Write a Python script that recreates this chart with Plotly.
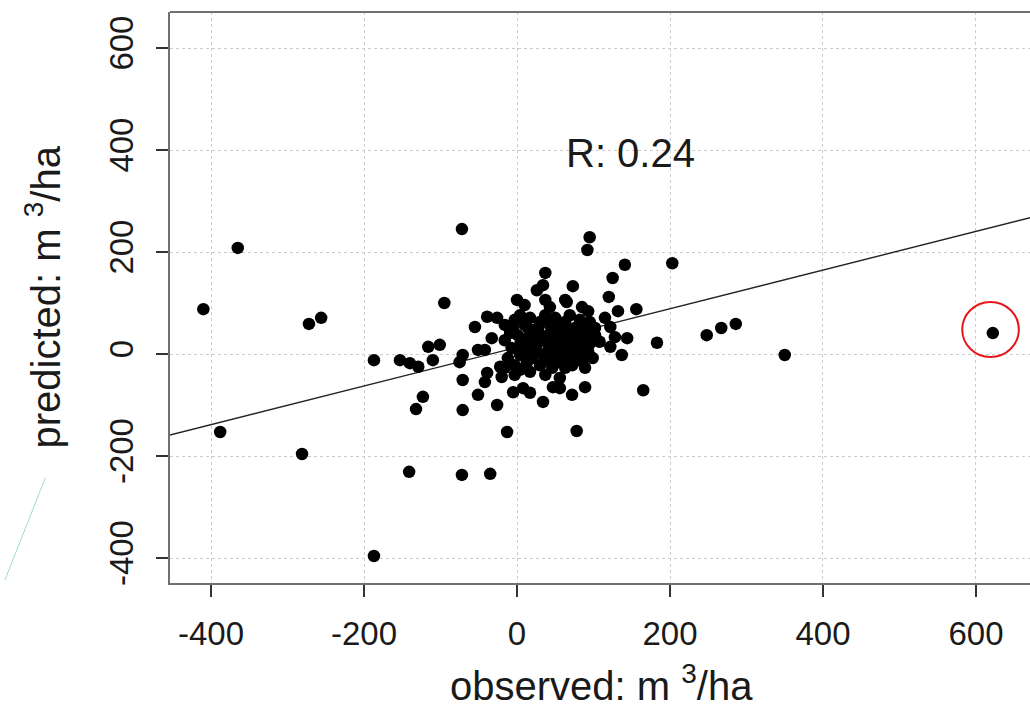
import plotly.graph_objects as go

# observed (x) and predicted (y), m3/ha
obs_out = [-410, -365, -388, -281, -272, -256, -187, -187, -153, -140, -129, -141, -132, -123,
           -116, -101, -110, -95, -72, -72, -35, -71, -75, -71, -71, -51, -55, -39, -26, -33,
           -42, -39, -42, -51, -22, -20, -26, -13, -5, 8, 17]
pred_out = [88, 208, -153, -196, 59, 71, -12, -396, -12, -18, -25, -231, -108, -84,
            14, 18, -12, 100, 245, -237, -235, -2, -16, -51, -110, 8, 53, 73, 71, 31,
            8, -37, -55, -80, -25, -45, -100, -153, -75, -67, -76]

obs_up = [0, 10, 37, 34, 26, 73, 63, 37, 43, 95, 92, 141, 203, 125, 120, 132, 156, 85, 93,
          115, 102, 122, 128, 144, 183, 108, 122, 137, 248, 267, 286, 350, 622, 165, 78,
          47, 56, 72, 89, 34, 63, 65]
pred_up = [106, 96, 159, 135, 125, 133, 106, 106, 92, 229, 204, 175, 178, 149, 112, 84, 88, 92, 84,
           71, 51, 53, 33, 31, 22, 24, 14, -2, 37, 51, 59, -2, 41, -71, -151,
           -65, -67, -80, -65, -94, -27, 102]

obs_core = [-16, -9, -3, 4, 10, 17, 24, 30, 37, 43, 50, 56, 63, 69, 76, 82, 89, 95, 102,
            -16, -7, 1, 8, 14, 21, 27, 34, 41, 47, 54, 60, 67, 73, 80, 86, 93,
            -12, -3, 4, 13, 20, 30, 38, 46, 54, 63, 72, 80, 89, 99,
            4, 17, 37, 56, -3, -16,
            20, 28, 35, 45, 52, 58, 65, 75, 82, 90, 15, 5, 25, 40, 48,
            60, 70, 78, 85, 30, 42, 55, 62, 18, -5, 0, 12, 95, 100, 68]
pred_core = [57, 41, 67, 76, 57, 71, 47, 63, 76, 57, 71, 47, 63, 76, 51, 67, 47, 63, 37,
             27, 12, 37, 18, 31, 8, 24, -2, 18, 31, 8, 22, -2, 27, 12, 24, 4,
             -8, -22, -2, -16, -8, -22, -12, -27, -16, -8, -22, -12, -27, -8,
             -31, -35, -41, -47, -41, -27,
             40, 52, 35, 45, 38, 55, 40, 35, 42, 30, 50, 25, 15, 5, -5,
             10, 12, 0, -12, 30, 28, 25, 33, 22, 50, 10, 0, 20, 45, 48]

observed = obs_out + obs_up + obs_core
predicted = pred_out + pred_up + pred_core

# fitted regression line
fit_intercept = 13.0
fit_slope = 0.379
r_value = 0.24
line_x = [-460, 680]
line_y = [fit_intercept + fit_slope * v for v in line_x]

# highlighted outlier
circle_center = (619, 48)
circle_rx, circle_ry = 37, 54

x_ticks = [-400, -200, 0, 200, 400, 600]
x_tick_labels = ["-400", "-200", "0", "200", "400", "600"]
y_ticks = [-400, -200, 0, 200, 400, 600]
y_tick_labels = ["-400", "-200", "0", "200", "400", "600"]

font_family = "Liberation Sans, Arial, sans-serif"
txt = "#1a1a1a"

fig = go.Figure()
fig.add_trace(go.Scatter(x=line_x, y=line_y, mode="lines",
                         line=dict(color="#222222", width=1.4), hoverinfo="skip"))
fig.add_trace(go.Scatter(x=observed, y=predicted, mode="markers",
                         marker=dict(color="black", size=12.5, line=dict(width=0))))

fig.add_shape(type="circle", xref="x", yref="y",
              x0=circle_center[0] - circle_rx, x1=circle_center[0] + circle_rx,
              y0=circle_center[1] - circle_ry, y1=circle_center[1] + circle_ry,
              line=dict(color="#e8171b", width=2))
# top frame line
fig.add_shape(type="line", xref="paper", yref="paper", x0=0, x1=1, y0=1, y1=1,
              line=dict(color="#707070", width=2))
# stray teal stroke at left edge
fig.add_shape(type="line", xref="paper", yref="paper", x0=-0.145, y0=0.184, x1=-0.192, y1=0.005,
              line=dict(color="#9adcd3", width=1))

fig.add_annotation(x=148, y=394, xref="x", yref="y", text=f"R: {r_value}", showarrow=False,
                   font=dict(size=40, color=txt, family=font_family))
fig.add_annotation(x=(601 - 170) / 860, y=(583 - 683) / 571, xref="paper", yref="paper",
                   text="observed: m <sup>3</sup>/ha", showarrow=False,
                   font=dict(size=40, color=txt, family=font_family), yanchor="middle")
fig.add_annotation(x=(43 - 170) / 860, y=0.5, xref="paper", yref="paper",
                   text="predicted: m <sup>3</sup>/ha", showarrow=False, textangle=-90,
                   font=dict(size=40, color=txt, family=font_family), xanchor="center")

fig.update_layout(
    width=1030, height=707,
    margin=dict(l=170, r=0, t=12, b=124, autoexpand=False),
    paper_bgcolor="white", plot_bgcolor="white",
    showlegend=False,
    font=dict(family=font_family, color=txt),
    xaxis=dict(range=[-453.6, 670.6], tickvals=x_ticks, ticktext=x_tick_labels,
               ticks="outside", ticklen=12, tickcolor="#333333", tickwidth=1.5,
               showline=True, linecolor="#707070", linewidth=2, mirror=False,
               showgrid=True, gridcolor="#cccccc", griddash="dot", gridwidth=1,
               zeroline=False, tickfont=dict(size=33, color=txt), ticklabelstandoff=8,
               automargin=False),
    yaxis=dict(range=[-449, 670.6], tickvals=y_ticks, ticktext=y_tick_labels,
               ticks="outside", ticklen=12, tickcolor="#333333", tickwidth=1.5, tickangle=-90,
               showline=True, linecolor="#707070", linewidth=2, mirror=False,
               showgrid=True, gridcolor="#cccccc", griddash="dot", gridwidth=1,
               zeroline=False, tickfont=dict(size=33, color=txt), ticklabelstandoff=10,
               automargin=False),
)

# remove the page's default body margin so the figure sits at the window origin
fig.write_html("out.html", config={"displayModeBar": False},
               post_script="document.body.style.margin='0';document.body.style.overflow='hidden';")
